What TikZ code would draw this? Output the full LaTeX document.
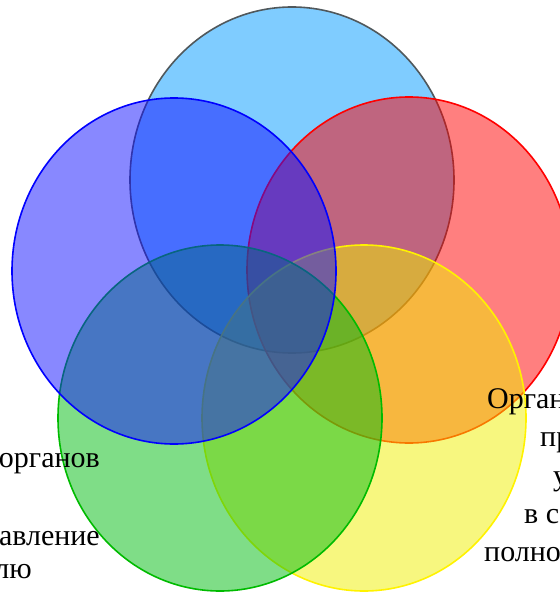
\documentclass[tikz,border=0pt]{standalone}
\usepackage{fontspec}
\setmainfont{Liberation Serif}
\definecolor{skyfill}{RGB}{0,153,255}
\definecolor{skyline}{RGB}{80,88,92}
\definecolor{bluefill}{RGB}{17,17,255}
\definecolor{redfill}{RGB}{255,0,0}
\definecolor{yellowfill}{RGB}{240,240,0}
\definecolor{greenfill}{RGB}{0,187,16}
\definecolor{greenline}{RGB}{0,187,0}
\begin{document}
\begin{tikzpicture}[x=1pt,y=-1pt]
		\tikzstyle{circ}=[line width=1.6pt,fill opacity=0.5]
		\tikzstyle{lbl}=[inner sep=0pt,font=\fontsize{30}{36}\selectfont]

		\useasboundingbox (0,0) rectangle (559,593);

		\path[circ,draw=skyline,fill=skyfill] (292,180) ellipse [x radius=162,y radius=173];
		\path[circ,draw=red,fill=redfill] (409,270) ellipse [x radius=162,y radius=173];
		\path[circ,draw=yellow,fill=yellowfill] (364,418) ellipse [x radius=162,y radius=173];
		\path[circ,draw=greenline,fill=greenfill] (220,418) ellipse [x radius=162,y radius=173];
		\path[circ,draw=blue,fill=bluefill] (174,271) ellipse [x radius=162,y radius=173];

		% left text
		\node [lbl,anchor=base east] (organov) at (100,467) {органов};
		\node [lbl,anchor=base east] (avlenie) at (100,545) {авление};
		\node [lbl,anchor=base east] (lyu) at (32,578) {лю};

		% right text
		\node [lbl,anchor=base west] (organ) at (487,408) {Орган};
		\node [lbl,anchor=base west] (pr) at (540,446) {пр};
		\node [lbl,anchor=base west] (u) at (553,485) {у};
		\node [lbl,anchor=base west] (vs) at (524,523) {в с};
		\node [lbl,anchor=base west] (polno) at (484,561) {полно};
\end{tikzpicture}
\end{document}
